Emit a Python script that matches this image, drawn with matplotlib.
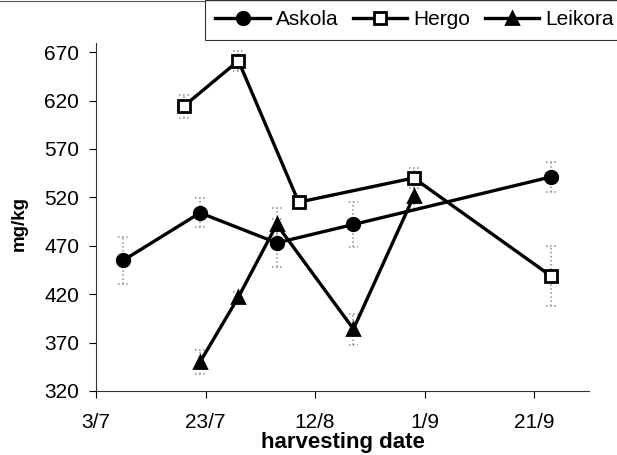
"""
Vitamin content of three cultivars over the harvesting season, with error bars.
"""

from datetime import date
import matplotlib
matplotlib.use('Agg')
from matplotlib import pyplot as plt
from matplotlib.lines import Line2D

START = date(2000, 7, 3)

# harvesting dates (day/month) and mean values in mg/kg
askola_dates = ['8/7', '22/7', '5/8', '19/8', '24/9']
askola_vals = [455, 504, 473, 492, 541]
askola_err = [24, 15, 25, 23, 15]

hergo_dates = ['19/7', '29/7', '9/8', '30/8', '24/9']
hergo_vals = [614, 661, 515, 540, 439]
hergo_err = [12, 10, 4, 10, 31]

leikora_dates = ['22/7', '29/7', '5/8', '19/8', '30/8']
leikora_vals = [350, 417, 492, 384, 521]
leikora_err = [12, 5, 17, 16, 13]

tick_dates = ['3/7', '23/7', '12/8', '1/9', '21/9']
y_ticks = [320, 370, 420, 470, 520, 570, 620, 670]


def toDays(labels):
    """Turns 'd/m' strings into days after the first tick date."""
    days = []
    for s in labels:
        d, m = s.split('/')
        days.append((date(START.year, int(m), int(d)) - START).days)
    return days


def drawSeries(ax, labels, vals, err, marker, face, ms):
    """Dotted grey error bars with dotted caps, then the black line on top."""
    x = toDays(labels)
    lo = [v - e for v, e in zip(vals, err)]
    hi = [v + e for v, e in zip(vals, err)]
    ax.vlines(x, lo, hi, colors='#8c8c8c', linestyles=':', lw=1.1, zorder=1)
    for xx, a, b in zip(x, lo, hi):
        ax.hlines([a, b], xx - 0.9, xx + 0.9, colors='#8c8c8c',
                  linestyles=':', lw=1.1, zorder=1)
    ax.plot(x, vals, color='black', lw=2.4, marker=marker, ms=ms,
            mfc=face, mec='black', mew=2, zorder=3)
    return Line2D([], [], color='black', lw=2.4, marker=marker, ms=ms,
                  mfc=face, mec='black', mew=2)


plt.rcParams['font.family'] = ['Liberation Sans', 'DejaVu Sans']

fig = plt.figure(figsize=(6.17, 4.55), dpi=100)
ax = fig.add_axes([0.1556, 0.1407, 0.799, 0.765])

handles = [
    drawSeries(ax, askola_dates, askola_vals, askola_err, 'o', 'black', 9),
    drawSeries(ax, hergo_dates, hergo_vals, hergo_err, 's', 'white', 8),
    drawSeries(ax, leikora_dates, leikora_vals, leikora_err, '^', 'black', 9),
]
names = ['Askola', 'Hergo', 'Leikora']

ax.set_xlim(0, 90)
ax.set_ylim(320, 679.5)
ax.set_xticks(toDays(tick_dates))
ax.set_xticklabels(tick_dates)
ax.set_yticks(y_ticks)

for side in ['top', 'right']:
    ax.spines[side].set_visible(False)
for side in ['left', 'bottom']:
    ax.spines[side].set_linewidth(0.8)
    ax.spines[side].set_color('#333333')

ax.tick_params(direction='out', length=5, width=0.8, labelsize=15)
ax.tick_params(axis='y', pad=7)
ax.tick_params(axis='x', pad=11)

ax.set_xlabel('harvesting date', fontsize=16, fontweight='bold', labelpad=0)
ax.set_ylabel('mg/kg', fontsize=13.5, fontweight='bold')
ax.yaxis.set_label_coords(-0.138, 0.48)

leg = fig.legend(handles, names, loc='upper left',
                 bbox_to_anchor=(205 / 617, 1.0), ncol=3,
                 fontsize=15, frameon=True, fancybox=False, edgecolor='black',
                 handlelength=2.6, handletextpad=0.3, columnspacing=0.7,
                 borderpad=0.5, borderaxespad=0)
leg.get_frame().set_linewidth(0.8)

# thin border line along the top of the figure
fig.add_artist(Line2D([0, 1], [0.998, 0.998], transform=fig.transFigure,
                      color='#555555', lw=0.8))

plt.savefig('out.png', dpi=100)
